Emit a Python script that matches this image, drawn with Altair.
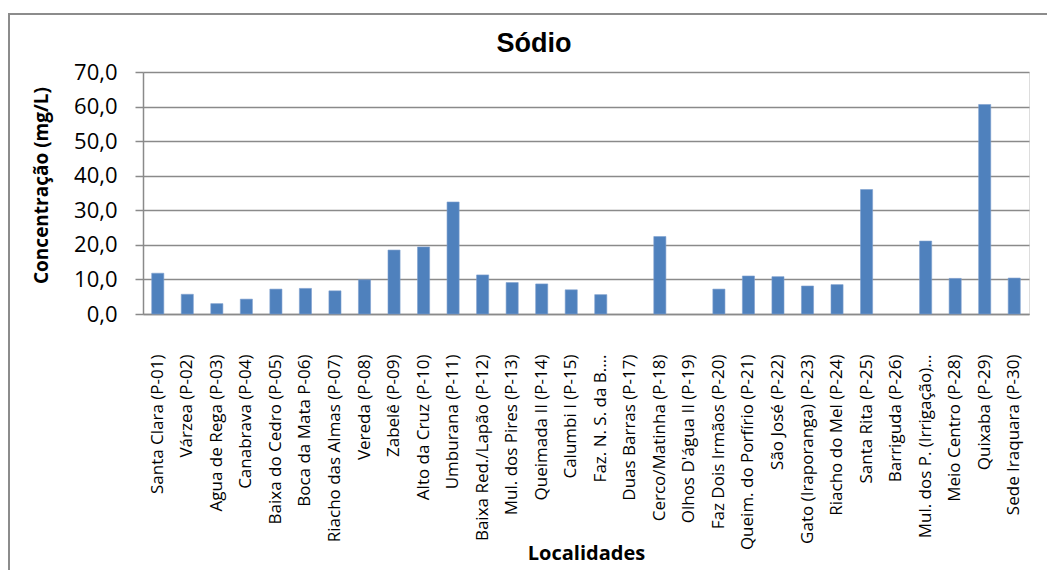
import altair as alt
import pandas as pd

# Localidades (eixo x) e concentração de sódio em mg/L
localidades = [
    "Santa Clara (P-01)", "Várzea (P-02)", "Agua de Rega (P-03)", "Canabrava (P-04)",
    "Baixa do Cedro (P-05)", "Boca da Mata P-06)", "Riacho das Almas (P-07)", "Vereda (P-08)",
    "Zabelê (P-09)", "Alto da Cruz (P-10)", "Umburana (P-11)", "Baixa Red./Lapão (P-12)",
    "Mul. dos Pires (P-13)", "Queimada II (P-14)", "Calumbi I (P-15)", "Faz. N. S. da B.…",
    "Duas Barras (P-17)", "Cerco/Matinha (P-18)", "Olhos D'água II (P-19)", "Faz Dois Irmãos (P-20)",
    "Queim. do Porfírio (P-21)", "São José (P-22)", "Gato (Iraporanga) (P-23)", "Riacho do Mel (P-24)",
    "Santa Rita (P-25)", "Barriguda (P-26)", "Mul. dos P. (Irrigação)…", "Meio Centro (P-28)",
    "Quixaba (P-29)", "Sede Iraquara (P-30)",
]
sodio = [
    11.8, 5.7, 3.0, 4.3, 7.2, 7.4, 6.7, 9.9, 18.5, 19.4,
    32.4, 11.3, 9.1, 8.7, 7.0, 5.6, None, 22.4, None, 7.2,
    11.0, 10.8, 8.1, 8.5, 36.0, None, 21.1, 10.3, 60.6, 10.4,
]
y_ticks = [0, 10, 20, 30, 40, 50, 60, 70]

df = pd.DataFrame({"Localidade": localidades, "Sodio": sodio})

W, H = 886, 242
FONT = "Open Sans"
GRID = "#8a8a8a"

bars = alt.Chart(df).mark_bar(color="#4F81BD", stroke="#7da0cf", strokeWidth=0.6).encode(
    x=alt.X(
        "Localidade:N",
        sort=localidades,
        scale=alt.Scale(paddingInner=0.59, paddingOuter=0.295),
        axis=alt.Axis(
            title="Localidades",
            titleFont=FONT,
            titleFontSize=20,
            titleFontWeight="bold",
            titleColor="#000000",
            titleY=239,
            titleBaseline="middle",
            labelAngle=-90,
            labelAlign="right",
            labelBaseline="middle",
            labelFont=FONT,
            labelFontSize=17,
            labelColor="#000000",
            labelPadding=40,
            labelLimit=0,
            ticks=False,
            domainColor=GRID,
            domainWidth=1.5,
        ),
    ),
    y=alt.Y(
        "Sodio:Q",
        scale=alt.Scale(domain=[0, 70], nice=False, zero=True),
        axis=alt.Axis(
            title="Concentração (mg/L)",
            titleFont=FONT,
            titleFontSize=19,
            titleFontWeight="bold",
            titleColor="#000000",
            titleAngle=-90,
            titleX=-102,
            titleY=113,
            titleAlign="center",
            titleBaseline="middle",
            values=y_ticks,
            labelExpr="replace(format(datum.value, '.1f'), '.', ',')",
            labelFont=FONT,
            labelFontSize=22,
            labelColor="#000000",
            labelPadding=18,
            tickSize=8,
            tickColor=GRID,
            tickWidth=1.5,
            domainColor=GRID,
            domainWidth=1.5,
            gridColor=GRID,
            gridWidth=1.5,
        ),
    ),
)

# Moldura da área do gráfico
frame = alt.Chart(df).mark_rect(fill=None, stroke="#8c8c8c", strokeWidth=1.5, clip=False).encode(
    x=alt.value(-134), x2=alt.value(W + 80), y=alt.value(-58), y2=alt.value(H + 300)
)

chart = (
    alt.layer(frame, bars)
    .properties(
        width=W,
        height=H,
        title=alt.TitleParams(
            "Sódio",
            font="Liberation Sans",
            fontSize=27,
            fontWeight="bold",
            color="#000000",
            anchor="middle",
            baseline="alphabetic",
            offset=0,
            dx=-52,
            dy=66,
        ),
        autosize=alt.AutoSizeParams(type="none"),
        padding={"left": 143, "top": 72, "right": 18, "bottom": 256},
    )
    .configure_view(stroke=None)
    .configure(background="#ffffff")
)

chart.save("out.html", embed_options={"renderer": "svg", "actions": False})
